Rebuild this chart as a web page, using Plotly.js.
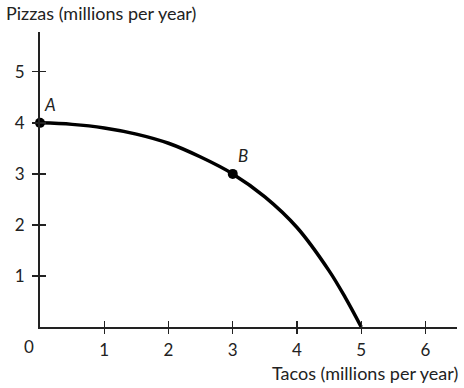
<!DOCTYPE html>
<html>
<head>
<meta charset="utf-8">
<script src="https://cdn.plot.ly/plotly-3.0.1.min.js"></script>
<style>html,body{margin:0;padding:0;background:#fff;}#chart{width:464px;height:388px;}</style>
</head>
<body>
<div id="chart"></div>
<script>
// PPF curve (tacos, pizzas in millions per year)
const tacos  = [0, 0.5, 1, 1.5, 2, 2.5, 3, 3.5, 4, 4.5, 4.75, 5];
const pizzas = [4, 3.97, 3.9, 3.78, 3.6, 3.33, 3.0, 2.55, 1.95, 1.1, 0.58, 0];
// labelled points
const pointNames  = ["A", "B"];
const pointTacos  = [0, 3];
const pointPizzas = [4, 3];
// ticks
const xTicks = [1, 2, 3, 4, 5, 6];
const yTicks = [1, 2, 3, 4, 5];
const xTitle = "Tacos (millions per year)";
const yTitle = "Pizzas (millions per year)";

const FONT = "Lato, 'Open Sans', sans-serif";
const XR = [0, 6.49], YR = [0, 5.78];

const traces = [
  {x: tacos, y: pizzas, mode: "lines", line: {color: "#000", width: 3.5, shape: "spline", smoothing: 1},
   hoverinfo: "skip", cliponaxis: false},
  {x: pointTacos, y: pointPizzas, mode: "markers", marker: {color: "#000", size: 10},
   xaxis: "x2", yaxis: "y2", cliponaxis: false, hoverinfo: "skip"}
];

const baseAxis = {
  showgrid: false, zeroline: false, showline: true, linecolor: "#222", linewidth: 2,
  tickcolor: "#222", tickwidth: 1.3, fixedrange: true
};

const annotations = [
  {text: yTitle, xref: "paper", yref: "paper", x: -36/417, y: 1, yshift: 19, xanchor: "left", yanchor: "middle",
   showarrow: false, font: {family: FONT, size: 18, color: "#222"}},
  {text: xTitle, xref: "paper", yref: "paper", x: 1, y: 0, xshift: 3, yshift: -46, xanchor: "right", yanchor: "middle",
   showarrow: false, font: {family: FONT, size: 18, color: "#222"}},
  {text: "0", x: 0, y: 0, xshift: -11, yshift: -19, showarrow: false, xanchor: "center", yanchor: "middle",
   font: {family: FONT, size: 17, color: "#222"}}
];
pointNames.forEach((n, i) => annotations.push({
  text: "<i>" + n + "</i>", x: pointTacos[i], y: pointPizzas[i], xshift: 10, yshift: 18,
  showarrow: false, xanchor: "center", yanchor: "middle", font: {family: FONT, size: 17, color: "#222"}
}));

const layout = {
  width: 464, height: 388,
  margin: {l: 40, r: 7, t: 32, b: 61},
  paper_bgcolor: "#fff", plot_bgcolor: "#fff",
  showlegend: false,
  font: {family: FONT, size: 17, color: "#222"},
  xaxis: Object.assign({}, baseAxis, {range: XR, tickvals: xTicks, ticks: "outside", ticklen: 5,
    ticklabelstandoff: 2, tickfont: {family: FONT, size: 17, color: "#222"}}),
  yaxis: Object.assign({}, baseAxis, {range: YR, tickvals: yTicks, ticks: "outside", ticklen: 6,
    ticklabelstandoff: 4, tickfont: {family: FONT, size: 17, color: "#222"}}),
  xaxis2: Object.assign({}, baseAxis, {range: XR, tickvals: xTicks, ticks: "inside", ticklen: 6,
    showticklabels: false, overlaying: "x", anchor: "y2"}),
  yaxis2: Object.assign({}, baseAxis, {range: YR, tickvals: yTicks, ticks: "inside", ticklen: 6,
    showticklabels: false, overlaying: "y", anchor: "x2"}),
  annotations: annotations
};

Plotly.newPlot("chart", traces, layout, {displayModeBar: false, staticPlot: true});
</script>
</body>
</html>
